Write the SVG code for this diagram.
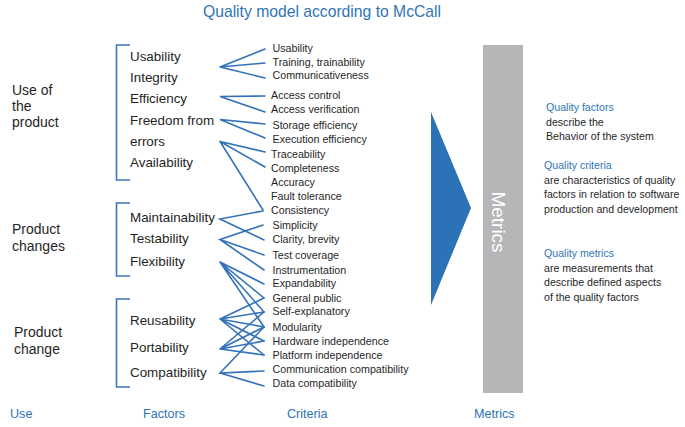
<svg xmlns="http://www.w3.org/2000/svg" width="685" height="427" viewBox="0 0 685 427">
<style>
text{font-family:"Liberation Sans",Arial,sans-serif;fill:#1f1f1f}
.title{font-size:15.7px;fill:#2e75b6}
.grp{font-size:14px}
.fac{font-size:13.4px}
.cri{font-size:10.7px}
.desc{font-size:10.6px}
.blue{fill:#2e75b6}
.foot{font-size:12.6px;fill:#2e75b6}
.br{fill:none;stroke:#3a74ba;stroke-width:1.6}
.ln{stroke:#3372b8;stroke-width:1.6;fill:none;stroke-linecap:round}
</style>
<rect width="685" height="427" fill="#ffffff"/>
<g id="title"><text class="title" x="322" y="17" text-anchor="middle">Quality model according to McCall</text></g>

<g id="use-groups">
<g id="use-product"><text class="grp" x="12" y="94.5">Use of</text><text class="grp" x="12" y="110.5">the</text><text class="grp" x="12" y="126.5">product</text><path class="br" d="M130,45 H116.5 V180 H130"/></g>
<g id="product-changes"><text class="grp" x="12" y="234">Product</text><text class="grp" x="12" y="250.5">changes</text><path class="br" d="M130,203 H116.5 V276 H130"/></g>
<g id="product-change"><text class="grp" x="14" y="337">Product</text><text class="grp" x="14" y="353.5">change</text><path class="br" d="M130,299 H116.5 V387 H130"/></g>
</g>

<g id="factors">
<text id="f-usability" class="fac" x="130" y="61">Usability</text>
<text id="f-integrity" class="fac" x="130" y="82">Integrity</text>
<text id="f-efficiency" class="fac" x="130" y="103">Efficiency</text>
<text id="f-freedom" class="fac" x="130" y="125">Freedom from</text>
<text id="f-errors" class="fac" x="130" y="146">errors</text>
<text id="f-availability" class="fac" x="130" y="167">Availability</text>
<text id="f-maintainability" class="fac" x="130" y="221.5">Maintainability</text>
<text id="f-testability" class="fac" x="130" y="243">Testability</text>
<text id="f-flexibility" class="fac" x="130" y="266">Flexibility</text>
<text id="f-reusability" class="fac" x="130" y="324.5">Reusability</text>
<text id="f-portability" class="fac" x="130" y="351.5">Portability</text>
<text id="f-compatibility" class="fac" x="130" y="377">Compatibility</text>
</g>

<g id="criteria">
<text class="cri" x="272.5" y="52">Usability</text>
<text class="cri" x="272.5" y="65.7">Training, trainability</text>
<text class="cri" x="272.5" y="79.3">Communicativeness</text>
<text class="cri" x="271" y="99">Access control</text>
<text class="cri" x="271" y="112.5">Access verification</text>
<text class="cri" x="272.5" y="128.5">Storage efficiency</text>
<text class="cri" x="272.5" y="143">Execution efficiency</text>
<text class="cri" x="271" y="157.5">Traceability</text>
<text class="cri" x="271" y="171.5">Completeness</text>
<text class="cri" x="271" y="185.5">Accuracy</text>
<text class="cri" x="271" y="200">Fault tolerance</text>
<text class="cri" x="271" y="213.5">Consistency</text>
<text class="cri" x="272.5" y="229">Simplicity</text>
<text class="cri" x="272.5" y="243">Clarity, brevity</text>
<text class="cri" x="272.5" y="259">Test coverage</text>
<text class="cri" x="272.5" y="273.5">Instrumentation</text>
<text class="cri" x="272.5" y="287.3">Expandability</text>
<text class="cri" x="272.5" y="301.5">General public</text>
<text class="cri" x="272.5" y="315">Self-explanatory</text>
<text class="cri" x="272.5" y="331">Modularity</text>
<text class="cri" x="272.5" y="345">Hardware independence</text>
<text class="cri" x="272.5" y="359">Platform independence</text>
<text class="cri" x="272.5" y="373.3">Communication compatibility</text>
<text class="cri" x="272.5" y="387">Data compatibility</text>
</g>

<g id="connectors">
<path class="ln" d="M265,49 L220,67 L265,63 M220,67 L265,78"/>
<path class="ln" d="M265,96 L220,96.5 L265,112"/>
<path class="ln" d="M265,124 L220,119.5 L265,138"/>
<path class="ln" d="M265,152 L220,141.5 L265,167 M220,141.5 L263,210"/>
<path class="ln" d="M263,211 L220,219 L264,240"/>
<path class="ln" d="M263,225 L220,239.5 L264,255 M220,239.5 L264,270"/>
<path class="ln" d="M220,262 L264,284 M220,262 L264,298 M220,262 L264,312 M220,262 L264,327"/>
<path class="ln" d="M220,319 L264,298 M220,319 L264,312 M220,319 L264,327 M220,319 L264,341 M220,319 L264,355"/>
<path class="ln" d="M220,349 L264,312 M220,349 L264,327 M220,349 L264,341 M220,349 L264,355"/>
<path class="ln" d="M264,327 L220,373 L264,371 M220,373 L264,386"/>
</g>

<g id="arrow"><polygon points="431,112 471,208 431,305" fill="#2b72b6"/></g>

<g id="metrics-bar">
<rect x="483" y="45" width="40" height="348" fill="#b4b6b7"/>
<text transform="translate(492,222) rotate(90)" text-anchor="middle" style="font-size:19px;fill:#ffffff">Metrics</text>
</g>

<g id="legend">
<text class="desc blue" x="546" y="111">Quality factors</text>
<text class="desc" x="546" y="126">describe the</text>
<text class="desc" x="546" y="140">Behavior of the system</text>
<text class="desc blue" x="544" y="169">Quality criteria</text>
<text class="desc" x="544" y="183.5">are characteristics of quality</text>
<text class="desc" x="544" y="198">factors in relation to software</text>
<text class="desc" x="544" y="212.5">production and development</text>
<text class="desc blue" x="544" y="257">Quality metrics</text>
<text class="desc" x="544" y="272">are measurements that</text>
<text class="desc" x="544" y="286">describe defined aspects</text>
<text class="desc" x="544" y="300.5">of the quality factors</text>
</g>

<g id="footer">
<text class="foot" x="10" y="418">Use</text>
<text class="foot" x="143" y="418">Factors</text>
<text class="foot" x="287" y="418">Criteria</text>
<text class="foot" x="474" y="418">Metrics</text>
</g>
</svg>
